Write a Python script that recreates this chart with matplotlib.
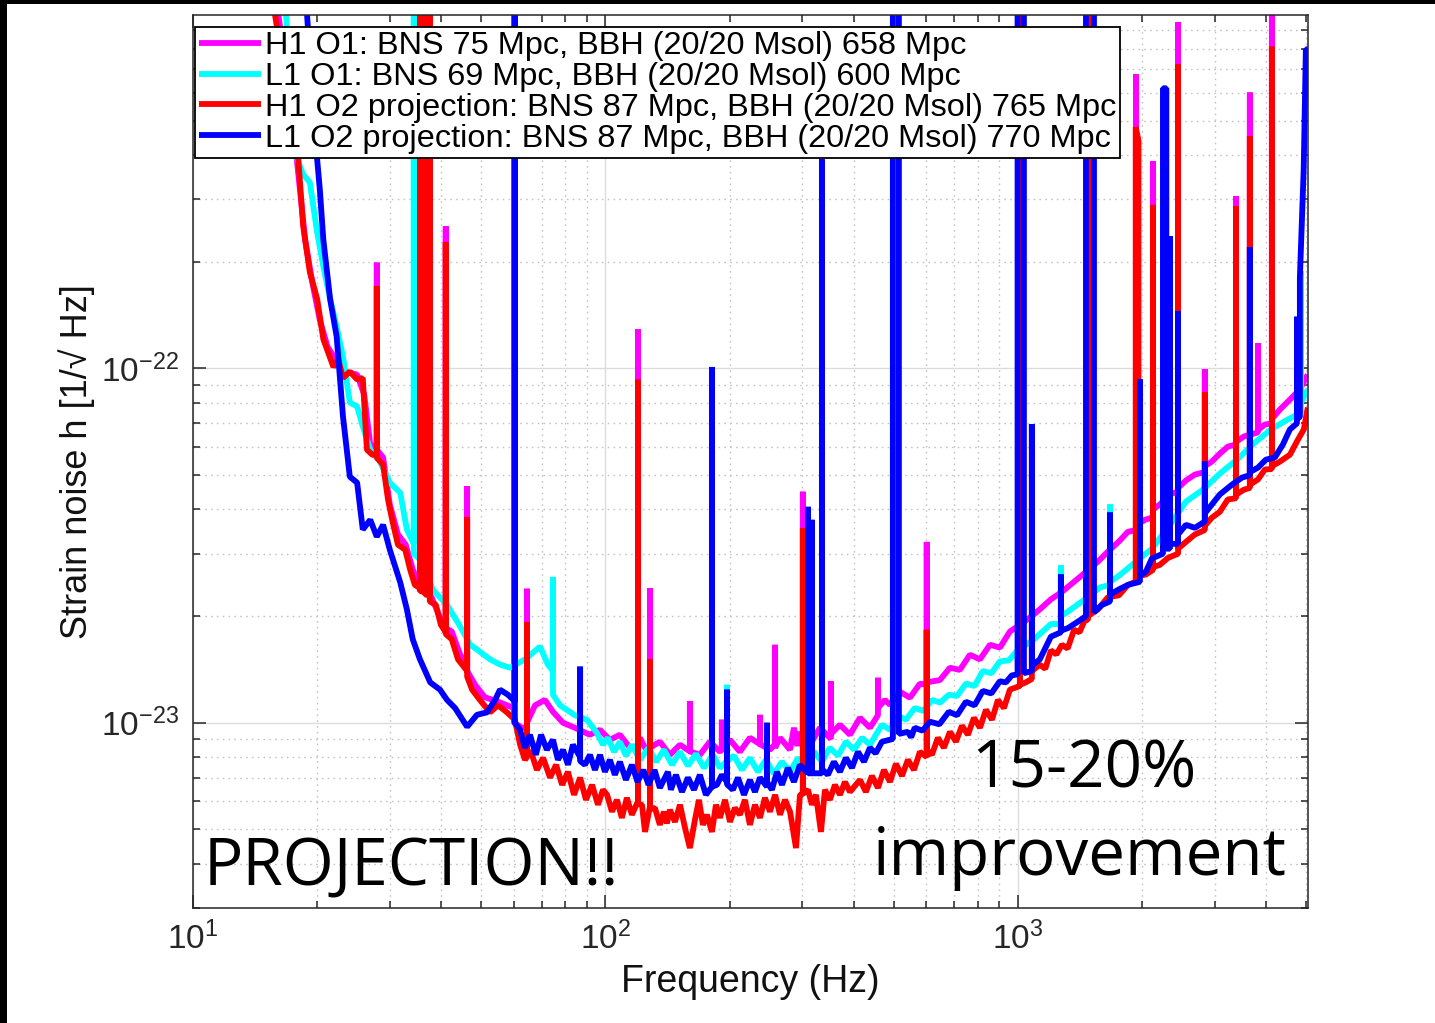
import numpy as np
import matplotlib
matplotlib.use('Agg')
import matplotlib.pyplot as plt
from matplotlib.patches import Rectangle
from matplotlib.ticker import LogLocator, NullFormatter

plt.rcParams['font.family'] = ['Liberation Sans', 'DejaVu Sans']
plt.rcParams['mathtext.fontset'] = 'custom'
plt.rcParams['mathtext.rm'] = 'Liberation Sans'
plt.rcParams['mathtext.it'] = 'Liberation Sans:italic'
plt.rcParams['mathtext.bf'] = 'Liberation Sans:bold'
plt.rcParams['axes.unicode_minus'] = False

# amplitude spectral densities: (frequency Hz, strain in 1e-23 /rtHz)
# spikes are written as three points at the same frequency (base, top, base)
h1_o1 = [
    (15.5, 163), (16.1, 100), (17.2, 57.5), (17.9, 37.7), (18.7, 23.1), (19.5, 17.3), (20.3, 13.7),
    (21.2, 11.5), (22.2, 10.6), (23.4, 9.8), (25.0, 9.61), (26.0, 8.45), (26.9, 6.10),
    (27.9, 6.0), (27.9, 19.9), (27.9, 5.9),
    (28.9, 5.61), (30.0, 4.13), (31.4, 3.40), (32.8, 3.18), (34.1, 2.71), (35.9, 2.37), (37.9, 2.26), (39.7, 1.98),
    (41.0, 1.9), (41.0, 25.2), (41.0, 1.85),
    (42.4, 1.81), (44.4, 1.56),
    (46.2, 1.45), (46.2, 4.65), (46.2, 1.4),
    (48.3, 1.28), (51.0, 1.18), (54.6, 1.15), (57.7, 1.12),
    (60.0, 1.1), (60.0, 160), (60.0, 1.0),
    (62.8, 0.968),
    (64.5, 0.97), (64.5, 2.39), (64.5, 1.0),
    (67.5, 1.12), (71.3, 1.16), (74.6, 1.074), (78.9, 1.0), (84.3, 0.968), (91.6, 0.925),
    (97.0, 0.955), (102.5, 0.895), (108.4, 0.925), (114.7, 0.850),
    (119.9, 0.86), (119.9, 12.9), (119.9, 0.86),
    (121.2, 0.907), (124.7, 0.85),
    (128.2, 0.83), (128.2, 2.40), (128.2, 0.85),
    (135.5, 0.884), (143.3, 0.812), (151.6, 0.867),
    (160.2, 0.83), (160.2, 1.15), (160.2, 0.83),
    (169.4, 0.812), (179.1, 0.884), (189.5, 0.828),
    (191.5, 0.84), (191.5, 1.02), (191.5, 0.84),
    (200.4, 0.895), (211.8, 0.828), (224.0, 0.907),
    (236.9, 0.87), (236.9, 1.053), (236.9, 0.87),
    (250.5, 0.839),
    (257.8, 0.87), (257.8, 1.66), (257.8, 0.85),
    (265.0, 0.907), (280.2, 0.839), (286.4, 0.968), (292, 0.86), (296.2, 0.943),
    (301, 0.87), (301, 4.49), (301, 0.88),
    (313.4, 0.867), (331.1, 0.968),
    (352, 0.9), (352, 1.31), (352, 0.93),
    (370.3, 0.987), (391.5, 0.925), (414, 1.033), (437.8, 0.968),
    (457.7, 1.05), (457.7, 1.34), (457.7, 1.1),
    (476, 1.16), (489.5, 1.124), (517.6, 1.223), (547.3, 1.177), (578.6, 1.289),
    (601, 1.28), (601, 3.24), (601, 1.30),
    (647, 1.32), (684.2, 1.43), (723.1, 1.41), (764.9, 1.556), (808.9, 1.51), (855.3, 1.66), (904.3, 1.63),
    (956.3, 1.81), (998, 1.87),
    (1069, 1.98), (1130, 2.09), (1202, 2.23), (1278, 2.34), (1368, 2.50), (1453, 2.65), (1563, 2.85),
    (1652, 3.04), (1758, 3.25), (1848, 3.46),
    (1933, 3.5), (1933, 67.7), (1933, 3.6),
    (2032, 3.74),
    (2125, 3.8), (2125, 38.4), (2125, 4.0),
    (2208, 4.13), (2337, 4.41),
    (2445, 4.5), (2445, 95), (2445, 4.6),
    (2555, 4.83), (2686, 5.02),
    (2839, 5.1), (2839, 9.95), (2839, 5.3),
    (2951, 5.46), (3087, 5.75), (3228, 6.02),
    (3377, 6.1), (3377, 30.6), (3377, 6.2),
    (3532, 6.43),
    (3650, 6.5), (3650, 60.1), (3650, 6.5),
    (3819, 6.6), (3819, 11.8), (3819, 6.7),
    (3972, 6.95),
    (4128, 7.0), (4128, 110), (4128, 7.2),
    (4318, 7.66), (4565, 8.17), (4826, 8.73), (5044, 9.61),
]

l1_o1 = [
    (16.3, 163), (16.8, 100), (17.5, 57.5), (17.9, 38.9), (18.5, 35.3), (19.2, 33.5), (20.0, 24.2),
    (20.7, 19.4), (21.5, 15.7), (22.3, 13.1), (23.1, 10.8), (24.0, 8.02), (25.0, 7.81), (25.8, 6.86),
    (26.9, 5.9), (28.4, 5.46), (30.0, 4.76), (31.8, 4.46), (33.0, 3.51),
    (34.3, 3.2), (34.3, 160), (34.3, 3.0),
    (35.5, 2.89), (38.2, 2.37), (41.3, 2.15), (44.2, 1.89), (47.0, 1.66), (48.8, 1.61), (52.5, 1.51),
    (55.5, 1.46), (58.7, 1.43), (63.8, 1.51), (69.4, 1.64), (72.5, 1.46),
    (74.6, 1.4), (74.6, 2.58), (74.6, 1.2),
    (77.6, 1.12), (84.3, 1.05), (90.2, 1.02), (95.3, 0.937), (98.6, 0.867), (101.4, 0.907), (104.9, 0.828),
    (108.4, 0.884), (112.1, 0.807), (115.9, 0.867), (121.2, 0.786), (127.2, 0.850), (132.6, 0.776),
    (138.6, 0.839), (145.0, 0.761), (151.6, 0.828), (158.5, 0.756), (165.8, 0.817), (173.3, 0.746),
    (182.2, 0.812), (189.5, 0.746),
    (197.1, 0.78), (197.1, 1.28), (197.1, 0.78),
    (204.9, 0.807), (214.2, 0.736), (224.0, 0.796), (234.3, 0.727), (244.9, 0.786), (256.1, 0.718),
    (267.9, 0.776), (280.2, 0.727), (292.9, 0.796), (306.3, 0.746), (320.3, 0.828), (334.9, 0.776),
    (350.0, 0.850), (366.2, 0.807), (382.8, 0.884), (400.9, 0.839), (418.8, 0.907), (437.8, 0.867),
    (468, 0.987), (489.5, 0.955), (511.7, 1.047), (535, 1.02), (562, 1.10), (590, 1.08), (618.6, 1.16),
    (648, 1.14), (680, 1.20), (712, 1.19), (748, 1.29), (785, 1.27), (822, 1.40), (862, 1.38),
    (904, 1.49), (950, 1.50), (998, 1.60), (1094, 1.72), (1202, 1.90),
    (1271, 1.9), (1271, 2.78), (1271, 2.0),
    (1322, 2.06), (1453, 2.23), (1581, 2.41),
    (1672, 2.45), (1672, 4.13), (1672, 2.5),
    (1758, 2.60), (1933, 2.85), (2113, 3.10), (2337, 3.62), (2555, 4.21), (2809, 4.55), (3087, 5.05),
    (3396, 5.53), (3732, 6.14), (4105, 6.73), (4513, 7.18),
    (4853, 7.5), (4853, 18.8), (4853, 8.0),
    (5044, 8.73),
]

h1_o2 = [
    (15.2, 163), (15.8, 100), (16.7, 65.5), (17.5, 47.3), (18.0, 38.9), (18.5, 25.2), (19.2, 18.7),
    (20.0, 15.7), (20.7, 12.1), (21.2, 11.2), (21.9, 10.1), (22.5, 10.6), (23.1, 9.4), (24.0, 9.8),
    (25.0, 9.31), (25.8, 9.4), (26.4, 5.9), (27.2, 5.71),
    (27.9, 5.7), (27.9, 17.1), (27.9, 5.6),
    (28.9, 5.35), (29.7, 4.27), (30.4, 3.74), (31.4, 3.18), (32.7, 3.08), (33.6, 2.71), (34.5, 2.45),
    (35.5, 2.4), (35.5, 160), (35.5, 2.35), (36.5, 2.35), (36.5, 160), (36.5, 2.3),
    (37.5, 2.3), (37.5, 160), (37.5, 2.2),
    (38.8, 2.15), (39.9, 1.89),
    (41.0, 1.8), (41.0, 22.7), (41.0, 1.78),
    (42.4, 1.72), (43.9, 1.51),
    (46.2, 1.4), (46.2, 3.81), (46.2, 1.35),
    (47.5, 1.24), (49.6, 1.16), (52.5, 1.07), (54.9, 1.12), (57.7, 1.07), (60.3, 1.02), (62.1, 0.867),
    (63.8, 0.786),
    (64.5, 0.8), (64.5, 1.92), (64.5, 0.82),
    (66.0, 0.828), (68.2, 0.736), (70.6, 0.796), (73.4, 0.70), (75.9, 0.761), (78.5, 0.668), (81.1, 0.727),
    (83.9, 0.626), (86.8, 0.70), (89.7, 0.606), (92.8, 0.668), (95.9, 0.587), (98.6, 0.647), (100.9, 0.626),
    (103.7, 0.561), (106.6, 0.606), (109.6, 0.539), (112.7, 0.614), (115.9, 0.550),
    (119.9, 0.6), (119.9, 9.3), (119.9, 0.59),
    (122.6, 0.587), (124.7, 0.492),
    (128.2, 0.58), (128.2, 1.51), (128.2, 0.57),
    (131.8, 0.575), (135.5, 0.515), (138.6, 0.561), (140.9, 0.52), (143.3, 0.568), (147.4, 0.525),
    (151.6, 0.587), (155.9, 0.505), (160.2, 0.443), (164.8, 0.532), (168.5, 0.606), (172.3, 0.515),
    (176.2, 0.550), (181.2, 0.492), (185.3, 0.587), (189.5, 0.539), (194.9, 0.606), (200.4, 0.525),
    (206.0, 0.575), (211.8, 0.550), (217.8, 0.606), (224.0, 0.515), (230.4, 0.587), (236.9, 0.539),
    (243.6, 0.614), (250.5, 0.561), (257.8, 0.626), (265.0, 0.550), (272.4, 0.606), (280.2, 0.561),
    (289.7, 0.443), (296.2, 0.626),
    (301, 0.63), (301, 3.54), (301, 0.63),
    (309.7, 0.647), (316.6, 0.587), (323.8, 0.626), (333.0, 0.492), (340.5, 0.647), (350.0, 0.606),
    (360.1, 0.668), (370.3, 0.626), (380.7, 0.681), (391.5, 0.638), (414, 0.690), (428, 0.638),
    (442.6, 0.708), (457.7, 0.655), (473.4, 0.736), (489.5, 0.681), (506.1, 0.766), (523.4, 0.708),
    (541.1, 0.786), (559.6, 0.736), (578.6, 0.828),
    (601, 0.80), (601, 1.83), (601, 0.84),
    (618.6, 0.812), (639.7, 0.907), (661.6, 0.850), (684.2, 0.943), (707.5, 0.884), (731.6, 0.981),
    (756.6, 0.925), (782.3, 1.033), (809, 0.968), (836.6, 1.088), (865, 1.02), (894.5, 1.16), (924.9, 1.10),
    (956.3, 1.24),
    (1011, 1.27), (1011, 160), (1011, 1.28),
    (1045, 1.30),
    (1081, 1.33), (1081, 6.95), (1081, 1.4),
    (1130, 1.458), (1165, 1.42), (1202, 1.60), (1240, 1.56), (1278, 1.66), (1320, 1.62), (1368, 1.83),
    (1410, 1.80), (1453, 1.95),
    (1478, 1.95), (1478, 160), (1478, 2.0),
    (1563, 2.09), (1652, 2.26), (1758, 2.29), (1848, 2.45),
    (1930, 2.5), (1930, 48.0), (1960, 44.0), (1960, 2.6),
    (2043, 2.62),
    (2125, 2.7), (2125, 28.9), (2125, 2.75),
    (2208, 2.79), (2311, 2.92),
    (2445, 3.0), (2445, 72.2), (2445, 3.1),
    (2555, 3.24), (2686, 3.40),
    (2839, 3.5), (2839, 8.56), (2839, 3.6),
    (2951, 3.79), (3087, 3.94), (3228, 4.27),
    (3377, 4.3), (3377, 28.7), (3377, 4.4),
    (3532, 4.55),
    (3650, 4.6), (3650, 45.2), (3650, 4.7),
    (3819, 4.86), (3972, 5.19),
    (4128, 5.2), (4128, 81.0), (4128, 5.3),
    (4318, 5.46), (4565, 5.71), (4775, 6.30), (4933, 6.73), (5044, 7.76),
]

l1_o2 = [
    (18.2, 163), (18.9, 100), (19.5, 57.5), (20.0, 38.9), (20.3, 32.0), (20.7, 23.1), (21.5, 15.7),
    (22.3, 12.3), (23.1, 7.32), (24.0, 4.95), (25.0, 4.76), (25.8, 3.51), (26.9, 3.74), (27.9, 3.35),
    (28.9, 3.62), (30.0, 3.08), (31.8, 2.49), (33.0, 2.09), (34.1, 1.72), (35.5, 1.51), (37.6, 1.30),
    (39.7, 1.24), (41.3, 1.16), (43.2, 1.10), (46.2, 0.974), (48.8, 1.053), (51.6, 1.07), (54.0, 1.16),
    (55.5, 1.24), (58.0, 1.20),
    (60.3, 1.15), (60.3, 160), (60.3, 1.0),
    (62.1, 0.955), (63.8, 0.850), (65.6, 0.925), (67.8, 0.812), (69.8, 0.925), (72.1, 0.839), (74.6, 0.895),
    (76.7, 0.786), (78.9, 0.839), (81.1, 0.761), (83.4, 0.867),
    (86.8, 0.8), (86.8, 1.44), (86.8, 0.78),
    (89.2, 0.761), (91.7, 0.812), (94.3, 0.736), (97.0, 0.812), (99.7, 0.727), (102.5, 0.786), (105.4, 0.713),
    (108.4, 0.776), (112.1, 0.69), (115.9, 0.761), (119.6, 0.681), (123.6, 0.736), (127.2, 0.668),
    (131.5, 0.736), (135.5, 0.655), (141.7, 0.727), (144.1, 0.647), (148.2, 0.713), (153.3, 0.638),
    (158.5, 0.70), (163.9, 0.647), (169.4, 0.713), (175.2, 0.626),
    (181.2, 0.66), (181.2, 10.1), (181.2, 0.66),
    (186.3, 0.668), (191.6, 0.713),
    (197.1, 0.68), (197.1, 1.24), (197.1, 0.67),
    (203.7, 0.647), (209.5, 0.70), (216.7, 0.626), (224.0, 0.69), (230.4, 0.638), (236.9, 0.70),
    (246.4, 0.66), (246.4, 1.0), (246.4, 0.68),
    (253.3, 0.647), (260.5, 0.727), (267.9, 0.668), (277.0, 0.746), (286.4, 0.681), (296.2, 0.761),
    (309.7, 0.72), (309.7, 4.07), (309.7, 0.72),
    (316.6, 0.72), (316.6, 3.74), (316.6, 0.72),
    (334.8, 0.72), (334.8, 38.9), (334.8, 0.74),
    (346.2, 0.713), (358.0, 0.776), (370.3, 0.727), (382.8, 0.796), (395.9, 0.746), (409.4, 0.828),
    (423.4, 0.776), (437.8, 0.850), (452, 0.82), (468, 0.884),
    (497.5, 0.9), (497.5, 160), (514.5, 160), (514.5, 0.93),
    (541, 0.943), (551, 0.91), (562, 0.968), (587, 0.95), (612, 1.007), (645, 0.99), (680, 1.074),
    (712, 1.05), (748, 1.146), (785, 1.12), (822, 1.23), (862, 1.21), (904, 1.31), (935, 1.30), (966, 1.36),
    (998, 1.37), (998, 160), (1034, 160), (1034, 1.38),
    (1081, 1.4), (1081, 6.95), (1081, 1.45),
    (1130, 1.51), (1202, 1.75),
    (1271, 1.8), (1271, 2.62), (1271, 1.82),
    (1322, 1.85), (1398, 1.93),
    (1462, 2.0), (1462, 160), (1529, 160), (1529, 2.05),
    (1598, 2.15),
    (1672, 2.2), (1672, 3.92), (1672, 2.3),
    (1758, 2.38), (1848, 2.45),
    (1976, 2.5), (1976, 9.31), (1976, 2.6),
    (2043, 2.67), (2113, 2.91),
    (2247, 3.0), (2247, 61.8), (2290, 61.8), (2290, 3.1),
    (2337, 3.1), (2337, 23.6), (2337, 3.2),
    (2445, 3.2), (2445, 14.5), (2445, 3.4),
    (2555, 3.62), (2686, 3.55),
    (2839, 3.7), (2839, 5.46), (2839, 3.9),
    (2951, 4.13), (3087, 4.41), (3303, 4.70), (3492, 4.92),
    (3650, 5.0), (3650, 22.0), (3650, 5.1),
    (3819, 5.25), (3992, 5.53), (4198, 5.61), (4389, 6.10), (4565, 6.73),
    (4747, 7.0), (4747, 14.0), (4747, 7.2),
    (4826, 7.3), (4826, 18.0), (4930, 36.5), (4990, 79.6), (5044, 79.6),
]

series = [
    (h1_o1, '#ff00ff', 'H1 O1: BNS 75 Mpc, BBH (20/20 Msol) 658 Mpc'),
    (l1_o1, '#00ffff', 'L1 O1: BNS 69 Mpc, BBH (20/20 Msol) 600 Mpc'),
    (h1_o2, '#ff0000', 'H1 O2 projection: BNS 87 Mpc, BBH (20/20 Msol) 765 Mpc'),
    (l1_o2, '#0000ff', 'L1 O2 projection: BNS 87 Mpc, BBH (20/20 Msol) 770 Mpc'),
]

W, H = 1435, 1023
fig = plt.figure(figsize=(W / 100, H / 100), dpi=100)
ax = fig.add_axes([193 / W, 1 - 908 / H, 1115 / W, 893 / H])

for data, color, label in series:
    f, asd = zip(*data)
    ax.plot(f, np.array(asd) * 1e-23, color=color, lw=4.2, label=label,
            solid_joinstyle='bevel', solid_capstyle='butt')

ax.set_xscale('log')
ax.set_yscale('log')
ax.set_xlim(10, 5050)
ax.set_ylim(3.0e-24, 0.995e-21)

dark = '#262626'
ax.xaxis.set_major_locator(LogLocator(base=10, numticks=10))
ax.xaxis.set_minor_locator(LogLocator(base=10, subs=np.arange(2, 10), numticks=20))
ax.yaxis.set_major_locator(LogLocator(base=10, numticks=10))
ax.yaxis.set_minor_locator(LogLocator(base=10, subs=np.arange(2, 10), numticks=20))
ax.xaxis.set_minor_formatter(NullFormatter())
ax.yaxis.set_minor_formatter(NullFormatter())

ax.tick_params(which='both', direction='in', top=True, right=True, color=dark,
               labelcolor=dark, labelsize=24, width=1.1, pad=10)
ax.tick_params(which='major', length=9.5)
ax.tick_params(which='minor', length=5)
for sp in ax.spines.values():
    sp.set_color(dark)
    sp.set_linewidth(1.1)

ax.grid(True, which='major', color='#dcdcdc', linestyle='-', linewidth=1.0)
ax.grid(True, which='minor', color='#c4c4c4', linestyle=(0, (1.2, 3.0)), linewidth=1.0)
ax.set_axisbelow(True)

ax.set_xlabel('Frequency (Hz)', fontsize=27, color='#111111')
ax.xaxis.set_label_coords(0.5, -0.063)
ax.set_ylabel('Strain noise h [1/\u221a Hz]', fontsize=26, color='#111111')
ax.yaxis.set_label_coords(-0.088, 0.5)

leg = ax.legend(loc='upper left', bbox_to_anchor=(2 / 1115, 1 - 12 / 893),
                bbox_transform=ax.transAxes, borderaxespad=0, fontsize=23.4,
                handlelength=1.92, handletextpad=0.12, labelspacing=0.03,
                borderpad=0.12, fancybox=False, framealpha=1, edgecolor='black')
leg.get_frame().set_linewidth(1.3)
for line in leg.get_lines():
    line.set_linewidth(4.2)

big = dict(family=['Open Sans', 'DejaVu Sans'], fontsize=47.2, color='black', va='baseline')
fig.text(204 / W, 1 - 885 / H, 'PROJECTION!!', **big)
fig.text(971 / W, 1 - 787 / H, '15-20%', **big)
fig.text(873 / W, 1 - 875 / H, 'improvement', **big)

# black strips along the top and left edges of the screenshot
fig.patches.append(Rectangle((0, 1 - 4 / H), 1, 4 / H, transform=fig.transFigure,
                             facecolor='black', edgecolor='none'))
fig.patches.append(Rectangle((0, 0), 7 / W, 1, transform=fig.transFigure,
                             facecolor='black', edgecolor='none'))

fig.savefig('out.png', dpi=100)
